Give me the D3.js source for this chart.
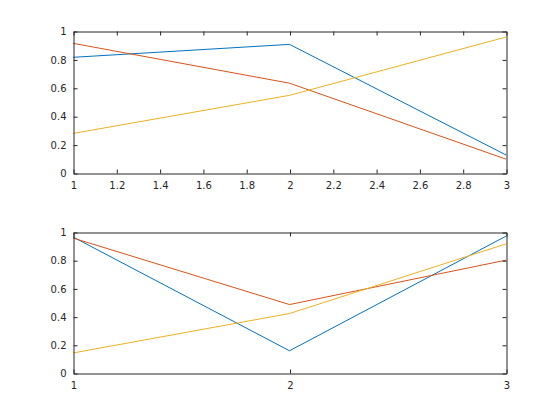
<!DOCTYPE html>
<html>
<head>
<meta charset="utf-8">
<script src="https://cdn.jsdelivr.net/npm/d3@7"></script>
<style>
  body { margin: 0; background: #fff; }
  svg { display: block; }
  .tick text { font-family: "DejaVu Sans", sans-serif; font-size: 10px; fill: #262626; }
</style>
</head>
<body>
<div id="chart"></div>
<script>
// data
const xs = [1, 2, 3];
// top subplot, one array per line
const topBlue = [0.8147, 0.9058, 0.1270];
const topRed = [0.9134, 0.6324, 0.0975];
const topYellow = [0.2785, 0.5469, 0.9575];
// bottom subplot
const botBlue = [0.9649, 0.1576, 0.9706];
const botRed = [0.9572, 0.4854, 0.8003];
const botYellow = [0.1419, 0.4218, 0.9157];

const topXTicks = [1, 1.2, 1.4, 1.6, 1.8, 2, 2.2, 2.4, 2.6, 2.8, 3];
const botXTicks = [1, 2, 3];
const yTicks = [0, 0.2, 0.4, 0.6, 0.8, 1];

const colors = ["#0072BD", "#D95319", "#EDB120"];
const W = 560, H = 420;
const axColor = "#262626";
const tickLen = 4;

const svg = d3.select("#chart").append("svg")
  .attr("width", W)
  .attr("height", H);

function subplot(box, series, xTicks) {
  const x = d3.scaleLinear().domain([1, 3]).range([box.left, box.right]);
  const y = d3.scaleLinear().domain([0, 1]).range([box.bottom, box.top]);
  const g = svg.append("g");

  // lines first, axes on top
  const line = d3.line()
    .x((d, i) => x(xs[i]))
    .y(d => y(d));
  series.forEach((s, i) => {
    g.append("path")
      .datum(s)
      .attr("d", line)
      .attr("fill", "none")
      .attr("stroke", colors[i])
      .attr("stroke-width", 1);
  });

  const fmt = d => d3.format("~g")(d);

  // bottom axis with labels
  g.append("g")
    .attr("transform", `translate(0.5, ${box.bottom + 0.5})`)
    .call(d3.axisBottom(x).tickValues(xTicks).tickFormat(fmt).tickSizeInner(-tickLen).tickSizeOuter(0).tickPadding(8))
    .call(a => a.select(".domain").attr("stroke", axColor))
    .call(a => a.selectAll(".tick line").attr("stroke", axColor));
  // top axis, ticks only
  g.append("g")
    .attr("transform", `translate(0.5, ${box.top + 0.5})`)
    .call(d3.axisTop(x).tickValues(xTicks).tickFormat("").tickSizeInner(-tickLen).tickSizeOuter(0))
    .call(a => a.select(".domain").attr("stroke", axColor))
    .call(a => a.selectAll(".tick line").attr("stroke", axColor));
  // left axis with labels
  g.append("g")
    .attr("transform", `translate(${box.left + 0.5}, 0.5)`)
    .call(d3.axisLeft(y).tickValues(yTicks).tickFormat(fmt).tickSizeInner(-tickLen).tickSizeOuter(0).tickPadding(7))
    .call(a => a.select(".domain").attr("stroke", axColor))
    .call(a => a.selectAll(".tick line").attr("stroke", axColor));
  // right axis, ticks only
  g.append("g")
    .attr("transform", `translate(${box.right + 0.5}, 0.5)`)
    .call(d3.axisRight(y).tickValues(yTicks).tickFormat("").tickSizeInner(-tickLen).tickSizeOuter(0))
    .call(a => a.select(".domain").attr("stroke", axColor))
    .call(a => a.selectAll(".tick line").attr("stroke", axColor));
}

subplot({left: 73, right: 506, top: 31, bottom: 173}, [topBlue, topRed, topYellow], topXTicks);
subplot({left: 73, right: 506, top: 232, bottom: 373}, [botBlue, botRed, botYellow], botXTicks);
</script>
</body>
</html>
